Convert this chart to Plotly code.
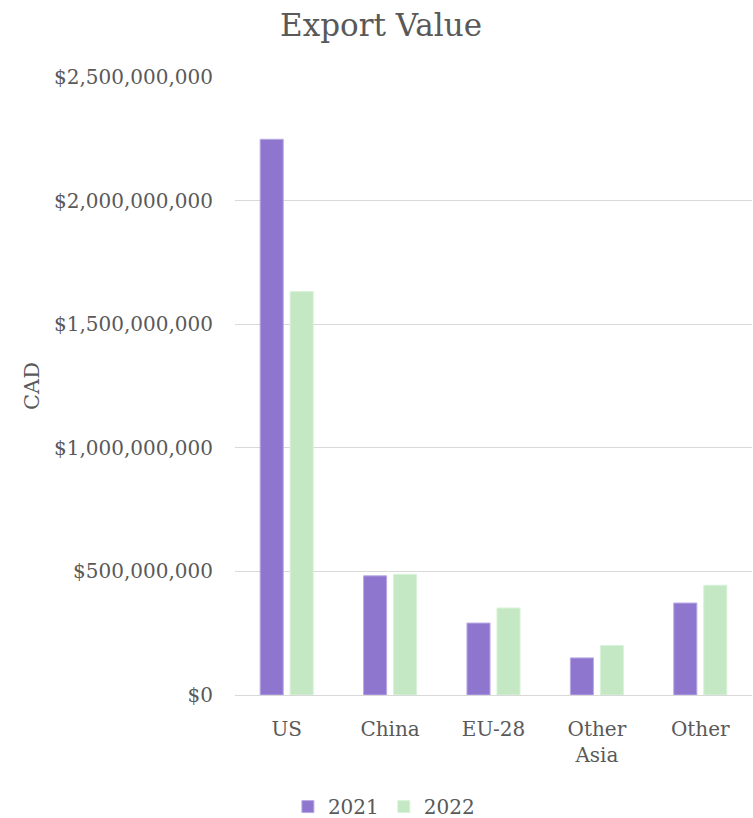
import plotly.graph_objects as go

# Export value by destination market, CAD
markets = ["US", "China", "EU-28", "Other<br>Asia", "Other"]
exports_2021 = [2_248_000_000, 482_000_000, 291_000_000, 150_000_000, 372_000_000]
exports_2022 = [1_632_000_000, 488_000_000, 352_000_000, 200_000_000, 444_000_000]
y_ticks = [0, 500_000_000, 1_000_000_000, 1_500_000_000, 2_000_000_000, 2_500_000_000]

FONT = "DejaVu Serif"
TEXT = "#595959"

fig = go.Figure()
fig.add_trace(go.Bar(
    name="2021", x=markets, y=exports_2021,
    marker=dict(color="#8E76CF", line=dict(color="#B9AAE6", width=1)),
))
fig.add_trace(go.Bar(
    name="2022", x=markets, y=exports_2022,
    marker=dict(color="#C4E8C4", line=dict(color="#DAF2DA", width=1)),
))

fig.update_layout(
    width=753, height=818,
    margin=dict(l=235, r=1, t=77, b=123, autoexpand=False),
    paper_bgcolor="white", plot_bgcolor="white",
    font=dict(family=FONT, size=20, color=TEXT),
    barmode="group", bargap=0.42, bargroupgap=0.23,
    title=dict(text="Export Value", x=0.506, xanchor="center",
               y=0.969, yanchor="middle", yref="container",
               font=dict(family=FONT, size=31, color=TEXT)),
    legend=dict(orientation="h", x=0.288, xanchor="center",
                y=-0.149, yanchor="top",
                font=dict(family=FONT, size=20, color=TEXT),
                itemwidth=30, traceorder="normal"),
    showlegend=True,
)
fig.update_xaxes(showgrid=False, showline=False, ticks="", automargin=False,
                 ticklabelstandoff=20,
                 tickfont=dict(family=FONT, size=20, color=TEXT))
fig.update_yaxes(range=[0, 2_500_000_000], tickvals=y_ticks,
                 tickformat="$,.0f", automargin=False,
                 showgrid=True, gridcolor="#D9D9D9", gridwidth=1,
                 zeroline=True, zerolinecolor="#D9D9D9", zerolinewidth=1,
                 showline=False, ticks="", ticklabelstandoff=21,
                 tickfont=dict(family=FONT, size=20, color=TEXT),
                 title=dict(text="CAD", standoff=8,
                            font=dict(family=FONT, size=21, color=TEXT)))

fig.write_html("out.html")
